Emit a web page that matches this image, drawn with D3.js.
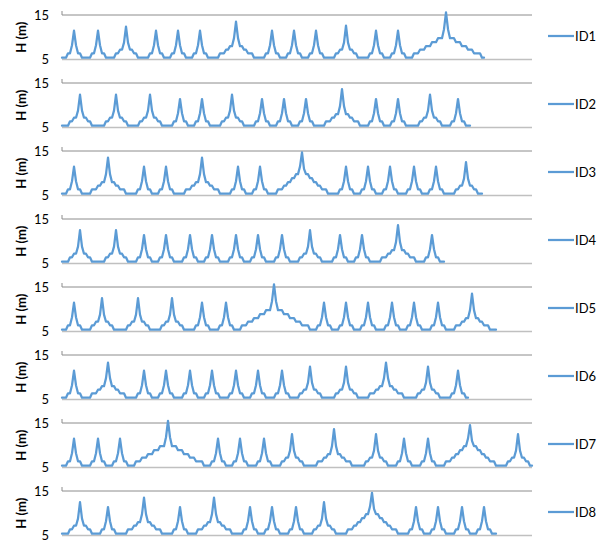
<!DOCTYPE html>
<html>
<head>
<meta charset="utf-8">
<script src="https://cdn.jsdelivr.net/npm/d3@7"></script>
<style>
  body { margin: 0; background: #fff; }
  svg { font-family: Lato, "Open Sans", "Liberation Sans", sans-serif; }
</style>
</head>
<body>
<div id="chart"></div>
<script>
// series names and y ticks
const ids = ['ID1', 'ID2', 'ID3', 'ID4', 'ID5', 'ID6', 'ID7', 'ID8'];
const yTicks = [5, 15];

// wave height H (m) per time step
const id1 = [
5.4,5.4,5.4, 6.4,6.4,8.2,11.5,8.2,6.4,6.4, 5.4,5.4,5.4,5.4,5.4, 6.4,6.4,8.2,11.5,8.2,6.4,6.4,
5.4,5.4,5.4,5.4,5.4, 6.4,6.4,7.2,7.2,8.8,12.4,8.8,7.2,7.2,6.4,6.4, 5.4,5.4,5.4,5.4,5.4,5.4,
6.4,6.4,8.2,11.5,8.2,6.4,6.4, 5.4,5.4,5.4,5.4, 6.4,6.4,8.2,11.5,8.2,6.4,6.4, 5.4,5.4,5.4,5.4,
6.4,6.4,8.2,11.5,8.2,6.4,6.4, 5.4,5.4,5.4,5.4,5.4,5.4,
6.4,6.4,6.4,7.2,7.2,8,8,9.8,13.5,9.8,8,8,7.2,7.2,6.4,6.4,6.4, 5.4,5.4,5.4,5.4,5.4,5.4,
6.4,6.4,8.2,11.5,8.2,6.4,6.4, 5.4,5.4,5.4,5.4, 6.4,6.4,8.2,11.5,8.2,6.4,6.4, 5.4,5.4,5.4,5.4,
6.4,6.4,8.2,11.5,8.2,6.4,6.4, 5.4,5.4,5.4,5.4,5.4,5.4,
6.4,6.4,7.2,7.2,8.8,12.6,8.8,7.2,7.2,6.4,6.4, 5.4,5.4,5.4,5.4,5.4,5.4,
6.4,6.4,8.2,11.5,8.2,6.4,6.4, 5.4,5.4,5.4,5.4, 6.4,6.4,8.2,11.5,8.2,6.4,6.4, 5.4,5.4,5.4,5.4,
6.4,6.4,6.4,7.2,7.2,7.2,8,8,8,8.9,8.9,8.9,9.8,9.8,9.8,11.8,15.6,11.8,9.8,9.8,9.8,8.9,8.9,8.9,8,8,8,7.2,7.2,7.2,6.4,6.4,6.4,6.4,
5.4,5.4
];

const id2 = [
5.4,5.4,5.4,5.4, 6.4,6.4,7.2,7.2,8.8,12.4,8.8,7.2,7.2,6.4,6.4, 5.4,5.4,5.4,5.4,5.4,5.4,5.4,
6.4,6.4,7.2,7.2,8.8,12.4,8.8,7.2,7.2,6.4,6.4, 5.4,5.4,5.4,5.4,5.4,5.4,
6.4,6.4,7.2,7.2,8.8,12.4,8.8,7.2,7.2,6.4,6.4, 5.4,5.4,5.4,5.4,5.4,5.4,
6.4,6.4,8.2,11.4,8.2,6.4,6.4, 5.4,5.4,5.4,5.4, 6.4,6.4,8.2,11.4,8.2,6.4,6.4, 5.4,5.4,5.4,5.4,5.4,5.4,
6.4,6.4,7.2,7.2,8.8,12.4,8.8,7.2,7.2,6.4,6.4, 5.4,5.4,5.4,5.4,5.4,5.4,
6.4,6.4,8.2,11.4,8.2,6.4,6.4, 5.4,5.4,5.4,5.4, 6.4,6.4,8.2,11.4,8.2,6.4,6.4, 5.4,5.4,5.4,5.4,
6.4,6.4,8.2,11.4,8.2,6.4,6.4, 5.4,5.4,5.4,5.4,5.4,5.4,
6.4,6.4,6.4,7.2,7.2,8,8,9.8,13.6,9.8,8,8,7.2,7.2,6.4,6.4,6.4, 5.4,5.4,5.4,5.4,5.4,
6.4,6.4,8.2,11.4,8.2,6.4,6.4, 5.4,5.4,5.4,5.4, 6.4,6.4,8.2,11.4,8.2,6.4,6.4, 5.4,5.4,5.4,5.4,5.4,5.4,5.4,
6.4,6.4,7.2,7.2,8.8,12.4,8.8,7.2,7.2,6.4,6.4, 5.4,5.4,5.4,5.4,5.4,
6.4,6.4,8.2,11.4,8.2,6.4,6.4, 5.4,5.4,5.4
];

const id3 = [
5.4,5.4,5.4, 6.4,6.4,8.2,11.5,8.2,6.4,6.4, 5.4,5.4,5.4,5.4,5.4,
6.4,6.4,6.4,7.2,7.2,8,8,9.8,13.5,9.8,8,8,7.2,7.2,6.4,6.4,6.4, 5.4,5.4,5.4,5.4,5.4,5.4,
6.4,6.4,8.2,11.5,8.2,6.4,6.4, 5.4,5.4,5.4,5.4, 6.4,6.4,8.2,11.5,8.2,6.4,6.4, 5.4,5.4,5.4,5.4,5.4,5.4,
6.4,6.4,6.4,7.2,7.2,8,8,9.8,13.5,9.8,8,8,7.2,7.2,6.4,6.4,6.4, 5.4,5.4,5.4,5.4,5.4,5.4,
6.4,6.4,8.2,11.5,8.2,6.4,6.4, 5.4,5.4,5.4,5.4, 6.4,6.4,8.2,11.5,8.2,6.4,6.4, 5.4,5.4,5.4,5.4,5.4,
6.4,6.4,6.4,7.2,7.2,8,8,8.9,8.9,9.8,9.8,11.5,14.7,11,9.8,9.8,8.9,8.9,8,8,7.2,7.2,6.4,6.4,6.4,
5.4,5.4,5.4,5.4,5.4,5.4,
6.4,6.4,8.2,11.5,8.2,6.4,6.4, 5.4,5.4,5.4,5.4, 6.4,6.4,8.2,11.5,8.2,6.4,6.4, 5.4,5.4,5.4,5.4,
6.4,6.4,8.2,11.5,8.2,6.4,6.4, 5.4,5.4,5.4,5.4,5.4, 6.4,6.4,8.2,11.5,8.2,6.4,6.4, 5.4,5.4,5.4,5.4,
6.4,6.4,8.2,11.5,8.2,6.4,6.4, 5.4,5.4,5.4,5.4,5.4,5.4,
6.4,6.4,7.2,7.2,8.8,12.5,8.8,7.2,7.2,6.4,6.4, 5.4,5.4,5.4
];

const id4 = [
5.4,5.4,5.4,5.4, 6.4,6.4,7.2,7.2,8.8,12.5,8.8,7.2,7.2,6.4,6.4, 5.4,5.4,5.4,5.4,5.4,5.4,5.4,
6.4,6.4,7.2,7.2,8.8,12.5,8.8,7.2,7.2,6.4,6.4, 5.4,5.4,5.4,5.4,5.4,
6.4,6.4,8.2,11.4,8.2,6.4,6.4, 5.4,5.4,5.4,5.4, 6.4,6.4,8.2,11.4,8.2,6.4,6.4, 5.4,5.4,5.4,5.4,5.4,
6.4,6.4,8.2,11.4,8.2,6.4,6.4, 5.4,5.4,5.4,5.4, 6.4,6.4,8.2,11.4,8.2,6.4,6.4, 5.4,5.4,5.4,5.4,5.4,
6.4,6.4,8.2,11.4,8.2,6.4,6.4, 5.4,5.4,5.4,5.4, 6.4,6.4,8.2,11.4,8.2,6.4,6.4, 5.4,5.4,5.4,5.4,5.4,
6.4,6.4,8.2,11.4,8.2,6.4,6.4, 5.4,5.4,5.4,5.4,5.4,
6.4,6.4,7.2,7.2,8.8,12.5,8.8,7.2,7.2,6.4,6.4, 5.4,5.4,5.4,5.4,5.4,5.4,
6.4,6.4,8.2,11.4,8.2,6.4,6.4, 5.4,5.4,5.4,5.4, 6.4,6.4,8.2,11.4,8.2,6.4,6.4, 5.4,5.4,5.4,5.4,5.4,5.4,
6.4,6.4,6.4,7.2,7.2,8,8,9.8,13.6,9.8,8,8,7.2,7.2,6.4,6.4,6.4, 5.4,5.4,5.4,5.4,5.4,
6.4,6.4,8.2,11.4,8.2,6.4,6.4, 5.4,5.4,5.4
];

const id5 = [
5.4,5.4,5.4, 6.4,6.4,8.2,11.5,8.2,6.4,6.4, 5.4,5.4,5.4,5.4,5.4,
6.4,6.4,7.2,7.2,8.8,12.5,8.8,7.2,7.2,6.4,6.4, 5.4,5.4,5.4,5.4,5.4,5.4,5.4,
6.4,6.4,7.2,7.2,8.8,12.5,8.8,7.2,7.2,6.4,6.4, 5.4,5.4,5.4,5.4,5.4,5.4,
6.4,6.4,7.2,7.2,8.8,12.5,8.8,7.2,7.2,6.4,6.4, 5.4,5.4,5.4,5.4,5.4,5.4,
6.4,6.4,8.2,11.5,8.2,6.4,6.4, 5.4,5.4,5.4,5.4,5.4, 6.4,6.4,8.2,11.5,8.2,6.4,6.4, 5.4,5.4,5.4,5.4,
6.4,6.4,6.4,7.2,7.2,7.2,8,8,8,8.9,8.9,8.9,9.8,9.8,9.8,11.8,15.6,11.8,9.8,9.8,9.8,8.9,8.9,8.9,8,8,8,7.2,7.2,7.2,6.4,6.4,6.4,6.4,
5.4,5.4,5.4,5.4,
6.4,6.4,8.2,11.5,8.2,6.4,6.4, 5.4,5.4,5.4,5.4, 6.4,6.4,8.2,11.5,8.2,6.4,6.4, 5.4,5.4,5.4,5.4,
6.4,6.4,8.2,11.5,8.2,6.4,6.4, 5.4,5.4,5.4,5.4,5.4, 6.4,6.4,8.2,11.5,8.2,6.4,6.4, 5.4,5.4,5.4,5.4,
6.4,6.4,8.2,11.5,8.2,6.4,6.4, 5.4,5.4,5.4,5.4,5.4, 6.4,6.4,8.2,11.5,8.2,6.4,6.4, 5.4,5.4,5.4,5.4,5.4,
6.4,6.4,6.4,7.2,7.2,8,8,9.8,13.5,9.8,8,8,7.2,7.2,6.4,6.4,6.4, 5.4,5.4,5.4,5.4
];

const id6 = [
5.4,5.4,5.4, 6.4,6.4,8.2,11.5,8.2,6.4,6.4, 5.4,5.4,5.4,5.4,5.4,
6.4,6.4,6.4,7.2,7.2,8,8,9.8,13.3,9.8,8,8,7.2,7.2,6.4,6.4,6.4, 5.4,5.4,5.4,5.4,5.4,5.4,
6.4,6.4,8.2,11.5,8.2,6.4,6.4, 5.4,5.4,5.4,5.4, 6.4,6.4,8.2,11.5,8.2,6.4,6.4, 5.4,5.4,5.4,5.4,5.4,
6.4,6.4,8.2,11.5,8.2,6.4,6.4, 5.4,5.4,5.4,5.4, 6.4,6.4,8.2,11.5,8.2,6.4,6.4, 5.4,5.4,5.4,5.4,5.4,
6.4,6.4,8.2,11.5,8.2,6.4,6.4, 5.4,5.4,5.4,5.4, 6.4,6.4,8.2,11.5,8.2,6.4,6.4, 5.4,5.4,5.4,5.4,5.4,
6.4,6.4,8.2,11.5,8.2,6.4,6.4, 5.4,5.4,5.4,5.4,5.4,
6.4,6.4,7.2,7.2,8.8,12.4,8.8,7.2,7.2,6.4,6.4, 5.4,5.4,5.4,5.4,5.4,5.4,5.4,
6.4,6.4,7.2,7.2,8.8,12.4,8.8,7.2,7.2,6.4,6.4, 5.4,5.4,5.4,5.4,5.4,5.4,
6.4,6.4,6.4,7.2,7.2,8,8,9.8,13.3,9.8,8,8,7.2,7.2,6.4,6.4,6.4, 5.4,5.4,5.4,5.4,5.4,5.4,5.4,
6.4,6.4,7.2,7.2,8.8,12.4,8.8,7.2,7.2,6.4,6.4, 5.4,5.4,5.4,5.4,5.4,5.4,
6.4,6.4,8.2,11.5,8.2,6.4,6.4, 5.4,5.4
];

const id7 = [
5.4,5.4,5.4, 6.4,6.4,8.2,11.5,8.2,6.4,6.4, 5.4,5.4,5.4,5.4,5.4, 6.4,6.4,8.2,11.5,8.2,6.4,6.4, 5.4,5.4,5.4,5.4,
6.4,6.4,8.2,11.5,8.2,6.4,6.4, 5.4,5.4,5.4,5.4,
6.4,6.4,6.4,7.2,7.2,7.2,8,8,8,8.9,8.9,8.9,9.8,9.8,9.8,11.8,15.5,11.8,9.8,9.8,9.8,8.9,8.9,8.9,8,8,8,7.2,7.2,7.2,6.4,6.4,6.4,6.4,
5.4,5.4,5.4,5.4,
6.4,6.4,8.2,11.5,8.2,6.4,6.4, 5.4,5.4,5.4,5.4, 6.4,6.4,8.2,11.5,8.2,6.4,6.4, 5.4,5.4,5.4,5.4,5.4,
6.4,6.4,8.2,11.5,8.2,6.4,6.4, 5.4,5.4,5.4,5.4,5.4,
6.4,6.4,7.2,7.2,8.8,12.5,8.8,7.2,7.2,6.4,6.4, 5.4,5.4,5.4,5.4,5.4,5.4,5.4,
6.4,6.4,6.4,7.2,7.2,8,8,9.8,13.6,9.8,8,8,7.2,7.2,6.4,6.4,6.4, 5.4,5.4,5.4,5.4,5.4,5.4,5.4,
6.4,6.4,7.2,7.2,8.8,12.5,8.8,7.2,7.2,6.4,6.4, 5.4,5.4,5.4,5.4,5.4,
6.4,6.4,8.2,11.5,8.2,6.4,6.4, 5.4,5.4,5.4,5.4,5.4, 6.4,6.4,8.2,11.5,8.2,6.4,6.4, 5.4,5.4,5.4,5.4,5.4,
6.4,6.4,6.4,7.2,7.2,8,8,8.9,8.9,9.8,9.8,11.5,14.5,11,9.8,9.8,8.9,8.9,8,8,7.2,7.2,6.4,6.4,6.4,
5.4,5.4,5.4,5.4,5.4,5.4,
6.4,6.4,7.2,7.2,8.8,12.5,8.8,7.2,7.2,6.4,6.4, 5.4,5.4
];

const id8 = [
5.4,5.4,5.4,5.4, 6.4,6.4,7.2,7.2,8.8,12.5,8.8,7.2,7.2,6.4,6.4, 5.4,5.4,5.4,5.4,5.4,
6.4,6.4,8.2,11.4,8.2,6.4,6.4, 5.4,5.4,5.4,5.4,5.4,5.4,
6.4,6.4,6.4,7.2,7.2,8,8,9.8,13.5,9.8,8,8,7.2,7.2,6.4,6.4,6.4, 5.4,5.4,5.4,5.4,5.4,5.4,
6.4,6.4,8.2,11.4,8.2,6.4,6.4, 5.4,5.4,5.4,5.4,5.4,
6.4,6.4,6.4,7.2,7.2,8,8,9.8,13.5,9.8,8,8,7.2,7.2,6.4,6.4,6.4, 5.4,5.4,5.4,5.4,5.4,5.4,
6.4,6.4,8.2,11.4,8.2,6.4,6.4, 5.4,5.4,5.4,5.4, 6.4,6.4,8.2,11.4,8.2,6.4,6.4, 5.4,5.4,5.4,5.4,5.4,
6.4,6.4,8.2,11.4,8.2,6.4,6.4, 5.4,5.4,5.4,5.4,5.4,
6.4,6.4,7.2,7.2,8.8,12.5,8.8,7.2,7.2,6.4,6.4, 5.4,5.4,5.4,5.4,5.4,5.4,
6.4,6.4,6.4,7.2,7.2,8,8,8.9,8.9,9.8,9.8,11.5,14.6,11,9.8,9.8,8.9,8.9,8,8,7.2,7.2,6.4,6.4,6.4,
5.4,5.4,5.4,5.4,5.4,5.4,
6.4,6.4,8.2,11.4,8.2,6.4,6.4, 5.4,5.4,5.4,5.4, 6.4,6.4,8.2,11.4,8.2,6.4,6.4, 5.4,5.4,5.4,5.4,5.4,
6.4,6.4,8.2,11.4,8.2,6.4,6.4, 5.4,5.4,5.4,5.4, 6.4,6.4,8.2,11.4,8.2,6.4,6.4, 5.4,5.4,5.4
];

const seriesList = [id1, id2, id3, id4, id5, id6, id7, id8];

// layout
const width = 600, height = 543;
const plotLeft = 62, plotRight = 532;
const firstTop = 15, panelStep = 68, panelH = 44.5;
const lineColor = '#5b9bd5';

const svg = d3.select('#chart').append('svg')
    .attr('width', width)
    .attr('height', height);

const maxLen = d3.max(seriesList, s => s.length);
const x = d3.scaleLinear()
    .domain([0, maxLen - 1])
    .range([plotLeft, plotRight]);

seriesList.forEach((values, i) => {
    const top = firstTop + i * panelStep;
    const bottom = top + panelH;

    const y = d3.scaleLinear()
        .domain([5, 15])
        .range([bottom, top]);

    const g = svg.append('g').attr('class', 'panel');

    // gridline at 15
    g.append('line')
        .attr('x1', plotLeft).attr('x2', plotRight)
        .attr('y1', y(15)).attr('y2', y(15))
        .attr('stroke', '#8c8c8c')
        .attr('stroke-width', 1);

    // small stub of the value axis above the top gridline
    g.append('line')
        .attr('x1', plotLeft).attr('x2', plotLeft)
        .attr('y1', y(15) - 4).attr('y2', y(15))
        .attr('stroke', '#8c8c8c')
        .attr('stroke-width', 1);

    // category axis line at 5
    g.append('line')
        .attr('x1', plotLeft).attr('x2', plotRight)
        .attr('y1', y(5)).attr('y2', y(5))
        .attr('stroke', '#c0c0c0')
        .attr('stroke-width', 1.5);

    // y tick labels
    const yAxis = d3.axisLeft(y)
        .tickValues(yTicks)
        .tickSize(0)
        .tickPadding(0)
        .tickFormat(d3.format('d'));

    const axisG = g.append('g')
        .attr('transform', `translate(${plotLeft - 13},0)`)
        .call(yAxis);
    axisG.select('.domain').remove();
    axisG.selectAll('text')
        .attr('fill', '#000')
        .style('font-size', '13px')
        .style('font-family', 'Lato, "Open Sans", sans-serif');

    // y axis title
    g.append('text')
        .attr('transform', `translate(26,${(top + bottom) / 2}) rotate(-90)`)
        .attr('text-anchor', 'middle')
        .style('font-size', '13px')
        .style('font-weight', 'bold')
        .text('H (m)');

    // the series line
    const line = d3.line()
        .x((d, j) => x(j))
        .y(d => y(d));

    g.append('path')
        .datum(values)
        .attr('d', line)
        .attr('fill', 'none')
        .attr('stroke', lineColor)
        .attr('stroke-width', 2.25)
        .attr('stroke-linejoin', 'round')
        .attr('stroke-linecap', 'round');

    // legend
    const legendY = top + 21;
    g.append('line')
        .attr('x1', 548).attr('x2', 574)
        .attr('y1', legendY).attr('y2', legendY)
        .attr('stroke', lineColor)
        .attr('stroke-width', 2.25);

    g.append('text')
        .attr('x', 575)
        .attr('y', legendY)
        .attr('dy', '0.35em')
        .style('font-size', '13px')
        .text(ids[i]);
});
</script>
</body>
</html>
